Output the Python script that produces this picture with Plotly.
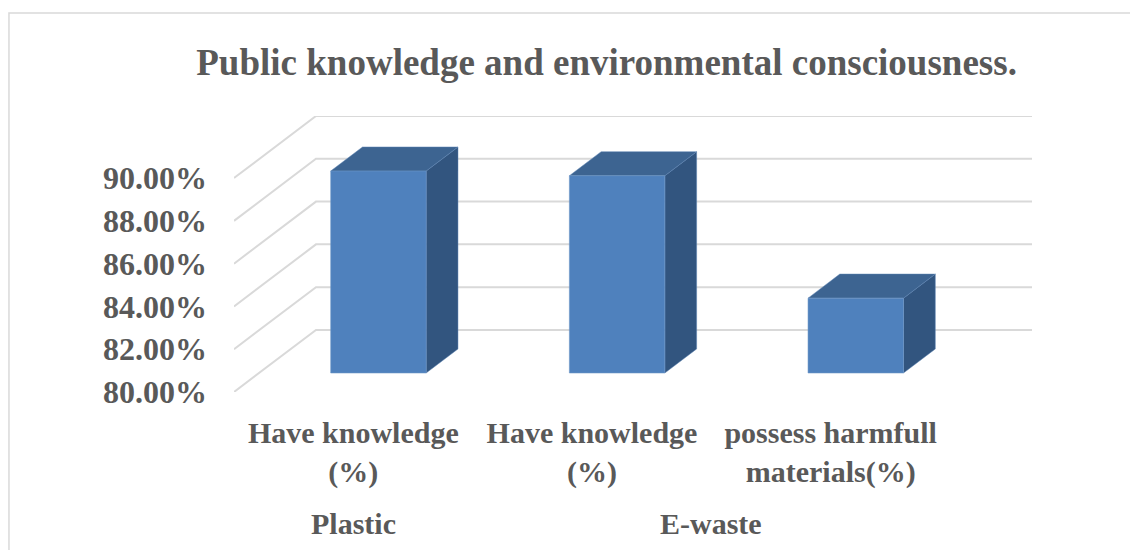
import plotly.graph_objects as go

# ---- data ----
categories = ["Have knowledge<br>(%)", "Have knowledge<br>(%)", "possess harmfull<br>materials(%)"]
groups = ["Plastic", "E-waste"]
group_spans = [[0], [1, 2]]
values = [89.44, 89.22, 83.50]
y_ticks = [80, 82, 84, 86, 88, 90]
y_tick_labels = ["80.00%", "82.00%", "84.00%", "86.00%", "88.00%", "90.00%"]
title_text = "Public knowledge and environmental consciousness."

# ---- 3D style constants (oblique projection in data units) ----
DX = 0.3435      # depth shift in category units
DY = 2.9         # depth shift in % units
F1, F2 = 0.306, 0.694   # bar front/back depth fractions
BAR_W = 0.40
BASE = 80
FRONT = "#4F81BD"
TOP = "#3D6491"
SIDE = "#32557F"
GRID = "#D9D9D9"
FONT = "Liberation Serif"
TXT = "#595959"

fig = go.Figure()

# back wall gridlines + side-wall diagonals
gx, gy = [], []
x_left = -0.5
x_right = len(categories) - 0.5
for v in y_ticks:
    gx += [x_left, x_left + DX, x_right + DX, None]
    gy += [v, v + DY, v + DY, None]
fig.add_trace(go.Scatter(x=gx, y=gy, mode="lines", line=dict(color=GRID, width=2),
                         hoverinfo="skip", showlegend=False))

dd = F2 - F1
for i, v in enumerate(values):
    x0 = i - BAR_W / 2 + F1 * DX
    x1 = x0 + BAR_W
    y0 = BASE + F1 * DY
    y1 = v + F1 * DY
    ox, oy = dd * DX, dd * DY
    # side face
    fig.add_trace(go.Scatter(x=[x1, x1 + ox, x1 + ox, x1, x1], y=[y0, y0 + oy, y1 + oy, y1, y0],
                             fill="toself", fillcolor=SIDE, mode="lines",
                             line=dict(color="rgba(90,130,180,0.6)", width=0.8),
                             hoverinfo="skip", showlegend=False))
    # top face
    fig.add_trace(go.Scatter(x=[x0, x1, x1 + ox, x0 + ox, x0], y=[y1, y1, y1 + oy, y1 + oy, y1],
                             fill="toself", fillcolor=TOP, mode="lines",
                             line=dict(color="rgba(90,130,180,0.6)", width=0.8),
                             hoverinfo="skip", showlegend=False))
    # front face
    fig.add_trace(go.Scatter(x=[x0, x1, x1, x0, x0], y=[y0, y0, y1, y1, y0],
                             fill="toself", fillcolor=FRONT, mode="lines",
                             line=dict(color="rgba(110,150,200,0.7)", width=0.8),
                             hoverinfo="skip", showlegend=False))

# group labels
for g, span in zip(groups, group_spans):
    fig.add_annotation(x=sum(span) / len(span), y=-0.475, xref="x", yref="paper",
                       text=g, showarrow=False, yanchor="middle",
                       font=dict(family=FONT, size=30, color=TXT, weight="bold"))

# chart border
fig.add_shape(type="rect", xref="paper", yref="paper", x0=-0.282, x1=2, y0=-2, y1=1.373,
              line=dict(color=GRID, width=1.5), fillcolor="rgba(0,0,0,0)", layer="below")

fig.update_layout(
    width=1138, height=550,
    margin=dict(l=226, r=114, t=108, b=166),
    paper_bgcolor="white", plot_bgcolor="white",
    title=dict(text=title_text, xref="container", x=0.526, xanchor="center",
               yref="container", y=0.902, yanchor="middle",
               font=dict(family=FONT, size=37, color=TXT, weight="bold")),
    xaxis=dict(range=[x_left, x_right + DX], tickvals=list(range(len(categories))),
               ticktext=categories, showgrid=False, zeroline=False, showline=False,
               ticks="", ticklabelstandoff=20,
               tickfont=dict(family=FONT, size=30, color=TXT, weight="bold")),
    yaxis=dict(range=[BASE, max(y_ticks) + DY], tickvals=y_ticks, ticktext=y_tick_labels,
               showgrid=False, zeroline=False, showline=False,
               ticks="", ticklabelstandoff=26,
               tickfont=dict(family=FONT, size=32, color=TXT, weight="bold")),
)

fig.write_html("out.html")
